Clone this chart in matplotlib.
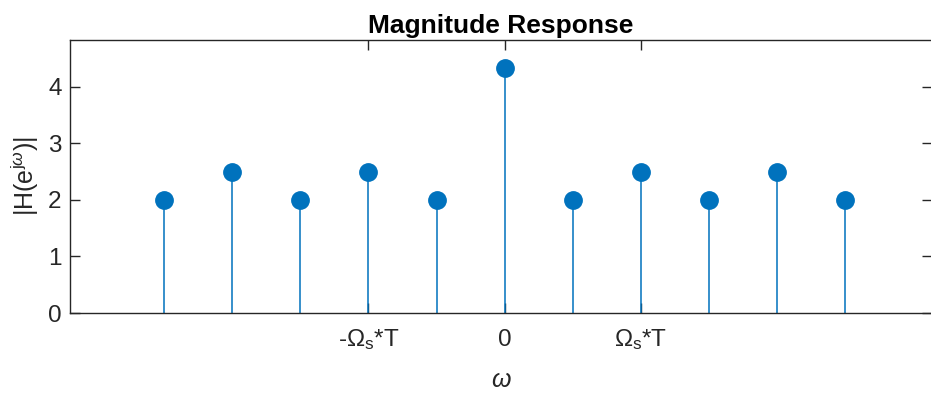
import numpy as np
import matplotlib.pyplot as plt

plt.rcParams['font.family'] = ['Liberation Sans', 'DejaVu Sans']
plt.rcParams['mathtext.fontset'] = 'custom'
plt.rcParams['mathtext.rm'] = 'Liberation Sans'
plt.rcParams['mathtext.it'] = 'Liberation Sans:italic'

# sample positions (units of Omega_s*T / 2) and magnitudes
omega = np.arange(-5, 6)
mag = [2, 2.5, 2, 2.5, 2, 4.33, 2, 2.5, 2, 2.5, 2]
tick_pos = [-2, 0, 2]
tick_lbl = [r'-$\Omega_{\mathrm{s}}$*T', '0', r'$\Omega_{\mathrm{s}}$*T']

blue = '#0072BD'
axc = '#262626'

fig = plt.figure(figsize=(9.31, 3.93), dpi=100)
ax = fig.add_axes([70/931, 1-313/393, 862/931, 273/393])

ml, sl, bl = ax.stem(omega, mag, basefmt=' ')
plt.setp(sl, color=blue, linewidth=1.1)
plt.setp(ml, color=blue, markersize=12.5)

ax.set_xlim(-6.38, 6.27)
ax.set_ylim(0, 4.83)
ax.set_xticks(tick_pos)
ax.set_xticklabels(tick_lbl)
ax.set_yticks([0, 1, 2, 3, 4])

for s in ax.spines.values():
    s.set_color(axc)
    s.set_linewidth(1.0)
ax.tick_params(direction='in', length=7, width=1.0, colors=axc,
               labelsize=17.5, top=True, right=True)
ax.tick_params(axis='x', pad=24)
ax.tick_params(axis='y', pad=6)
# line the x tick labels up on their baselines
for lbl in ax.get_xticklabels():
    lbl.set_verticalalignment('baseline')

ax.set_title('Magnitude Response', fontsize=19, fontweight='bold', pad=5)
ax.set_xlabel(r'$\omega$', fontsize=18, color=axc, va='center')
ax.xaxis.set_label_coords(0.5, -0.245)
ax.set_ylabel(r'|H(e$^{\mathrm{j}\omega}$)|', fontsize=18, color=axc, va='center')
ax.yaxis.set_label_coords(-0.052, 0.5)

fig.savefig('out.png', dpi=100)
